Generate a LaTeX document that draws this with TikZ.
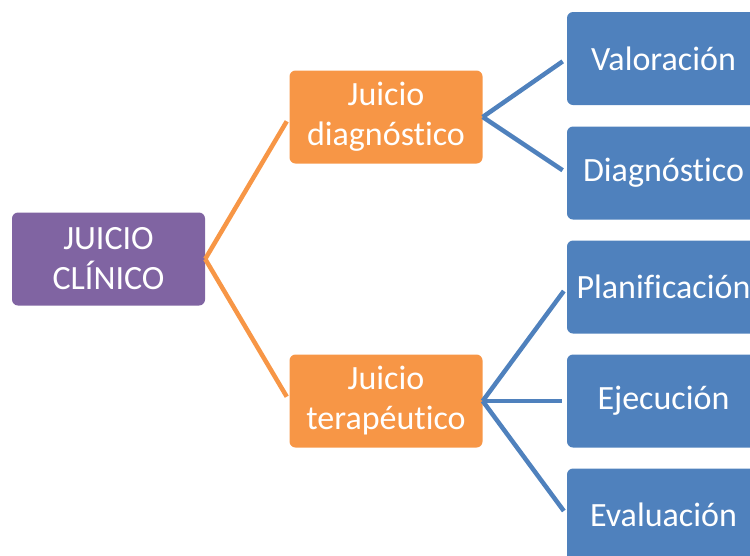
\documentclass[tikz,border=0pt]{standalone}
\usepackage{fontspec}
\setmainfont{Carlito}[Ligatures=CommonOff]
\definecolor{morado}{HTML}{8064A2}
\definecolor{naranja}{HTML}{F79646}
\definecolor{azul}{HTML}{4F81BD}
\begin{document}
\begin{tikzpicture}[x=1pt,y=-1pt,
  caja/.style={rounded corners=6pt, minimum width=193pt, minimum height=93pt,
    text=white, align=center, inner sep=0pt,
    font=\fontsize{34}{40}\selectfont},
  raiz/.style={caja, fill=morado},
  rama/.style={caja, fill=naranja},
  hoja/.style={caja, fill=azul},
  linea/.style={line width=4.5pt, shorten >=5pt}]
  \useasboundingbox (0,0) rectangle (750,555);

  \node [raiz] (clinico) at (108.5,259) {JUICIO\\CLÍNICO};

  \node [rama] (diag) at (386,117) {Juicio\\diagnóstico};
  \node [rama] (tera) at (386,401) {Juicio\\terapéutico};

  \node [hoja] (valor) at (663.5,58.5) {Valoración};
  \node [hoja] (diagno) at (663.5,173) {Diagnóstico};
  \node [hoja] (plan) at (663.5,287) {Planificación};
  \node [hoja] (ejec) at (663.5,401) {Ejecución};
  \node [hoja] (eval) at (663.5,515) {Evaluación};

  \draw [linea, naranja] (clinico.east) -- (diag.west);
  \draw [linea, naranja] (clinico.east) -- (tera.west);

  \draw [linea, azul] (diag.east) -- (valor.west);
  \draw [linea, azul] (diag.east) -- (diagno.west);

  \draw [linea, azul] (tera.east) -- (plan.west);
  \draw [linea, azul] (tera.east) -- (ejec.west);
  \draw [linea, azul] (tera.east) -- (eval.west);
\end{tikzpicture}
\end{document}
